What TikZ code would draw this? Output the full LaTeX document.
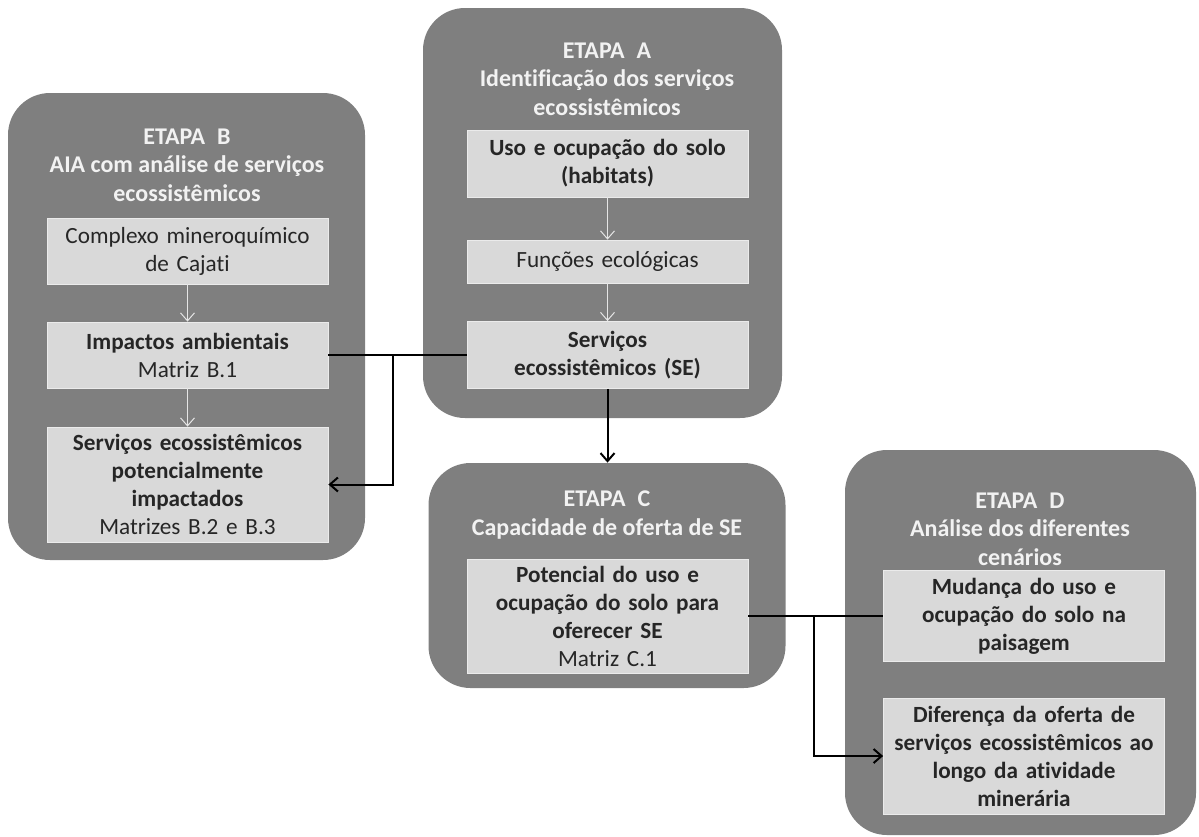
\documentclass[tikz,border=0pt]{standalone}
\usepackage{fontspec}
\setmainfont{Carlito}[Ligatures=NoCommon]
\usepackage{tikz}
\usetikzlibrary{arrows.meta, positioning}

\definecolor{panelgray}{HTML}{7F7F7F}
\definecolor{boxgray}{HTML}{D9D9D9}
\definecolor{titlewhite}{HTML}{F2F2F2}

\begin{document}
\begin{tikzpicture}[
    x=0.5pt, y=-0.5pt,
    panel/.style={rectangle, rounded corners=21pt, fill=panelgray, inner sep=0pt},
    title/.style={align=center, font=\fontsize{12}{14.2}\selectfont\bfseries,
                  text=titlewhite},
    item/.style={rectangle, fill=boxgray, draw=white!92!black, line width=0.4pt,
                 text width=136pt, inner xsep=2.25pt, inner ysep=0pt,
                 align=center, font=\fontsize{11.6}{14}\selectfont, text=black!85},
    flow/.style={-{Straight Barb[length=4pt, width=7pt]}, line width=0.5pt,
                 white!90!black},
    arr/.style={-{Straight Barb[length=4pt, width=7pt]}, line width=1pt, black},
    link/.style={line width=1pt, black},
]
\useasboundingbox (0,0) rectangle (1199,836);

% Etapa B
\node[panel, minimum width=178.5pt, minimum height=233.5pt] (pb) at (186.5,326.5) {};
\node[title] (tb) at (187,165) {ETAPA\enspace B\\AIA com análise de serviços\\ecossistêmicos};
\node[item, minimum height=33pt] (b1) at (187.5,251) {Complexo mineroquímico\\de Cajati};
\node[item, minimum height=33pt] (b2) at (187.5,355) {\textbf{Impactos ambientais}\\Matriz B.1};
\node[item, minimum height=57.5pt] (b3) at (187.5,484.5)
    {\textbf{Serviços ecossistêmicos}\\\textbf{potencialmente}\\\textbf{impactados}\\Matrizes B.2 e B.3};
\draw[flow] (b1) -- (b2);
\draw[flow] (b2) -- (b3);

% Etapa A
\node[panel, minimum width=179.5pt, minimum height=205pt] (pa) at (602.5,213) {};
\node[title] (ta) at (607,79) {ETAPA\enspace A\\Identificação dos serviços\\ecossistêmicos};
\node[item, minimum height=33.5pt] (a1) at (607.5,163.5) {\textbf{Uso e ocupação do solo}\\\textbf{(habitats)}};
\node[item, minimum height=21.5pt] (a2) at (607.5,261.5) {Funções ecológicas};
\node[item, minimum height=33.5pt] (a3) at (607.5,355) {\textbf{Serviços}\\\textbf{ecossistêmicos (SE)}};
\draw[flow] (a1) -- (a2);
\draw[flow] (a2) -- (a3);

% Etapa C
\node[panel, minimum width=178.5pt, minimum height=112.5pt] (pc) at (607,575.5) {};
\node[title] (tc) at (607,515) {ETAPA\enspace C\\Capacidade de oferta de SE};
\node[item, minimum height=57pt] (c1) at (607.5,616)
    {\textbf{Potencial do uso e}\\\textbf{ocupação do solo para}\\\textbf{oferecer SE}\\Matriz C.1};

% Etapa D
\node[panel, minimum width=175.5pt, minimum height=192.5pt] (pd) at (1020.5,642.5) {};
\node[title] (td) at (1020,529) {ETAPA\enspace D\\Análise dos diferentes\\cenários};
\node[item, minimum height=45.5pt] (d1) at (1024,616) {\textbf{Mudança do uso e}\\\textbf{ocupação do solo na}\\\textbf{paisagem}};
\node[item, minimum height=58pt] (d2) at (1024,756)
    {\textbf{Diferença da oferta de}\\\textbf{serviços ecossistêmicos ao}\\\textbf{longo da atividade}\\\textbf{minerária}};

% Connectors between stages
\coordinate (jb) at (393,355);
\draw[link] (b2.east) -- (a3.west);
\draw[arr] (jb) |- (b3.east);
\draw[arr] (a3.south) -- (a3.south |- pc.north);
\coordinate (jd) at (814,616);
\draw[link] (c1.east) -- (d1.west);
\draw[arr] (jd) |- (d2.west);

\end{tikzpicture}
\end{document}
